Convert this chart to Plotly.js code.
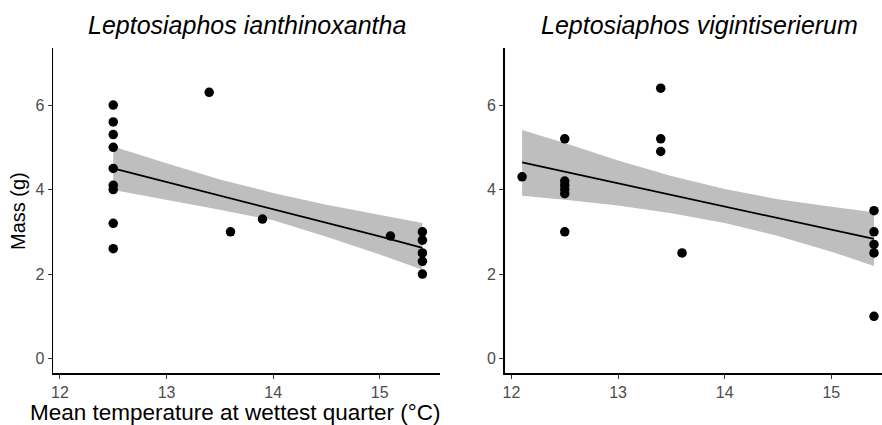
<!DOCTYPE html>
<html>
<head>
<meta charset="utf-8">
<script src="https://cdn.plot.ly/plotly-3.0.1.min.js"></script>
<style>
  html, body { margin: 0; padding: 0; background: #ffffff; }
  #chart { width: 882px; height: 425px; }
</style>
</head>
<body>
<div id="chart"></div>
<script>
// ---- Data ----
const panelTitles = ["Leptosiaphos ianthinoxantha", "Leptosiaphos vigintiserierum"];
const xTitle = "Mean temperature at wettest quarter (°C)";
const yTitle = "Mass (g)";
const xTickVals = [12, 13, 14, 15];
const yTickVals = [0, 2, 4, 6];

// L. ianthinoxantha observations
const ianX = [12.5, 12.5, 12.5, 12.5, 12.5, 12.5, 12.5, 12.5, 12.5, 13.4, 13.6, 13.9, 15.1, 15.4, 15.4, 15.4, 15.4, 15.4];
const ianY = [6.0, 5.6, 5.3, 5.0, 4.5, 4.1, 4.0, 3.2, 2.6, 6.3, 3.0, 3.3, 2.9, 3.0, 2.8, 2.5, 2.3, 2.0];
// L. ianthinoxantha fitted line and confidence band
const ianFitX = [12.5, 13.0, 13.5, 14.0, 14.5, 15.0, 15.4];
const ianFit = [4.50, 4.18, 3.85, 3.53, 3.21, 2.89, 2.62];
const ianUpper = [5.02, 4.62, 4.24, 3.92, 3.64, 3.40, 3.21];
const ianLower = [3.99, 3.76, 3.52, 3.27, 2.88, 2.46, 2.10];

// L. vigintiserierum observations
const vigX = [12.1, 12.5, 12.5, 12.5, 12.5, 12.5, 12.5, 13.4, 13.4, 13.4, 13.6, 15.4, 15.4, 15.4, 15.4, 15.4];
const vigY = [4.3, 5.2, 4.2, 4.1, 4.0, 3.9, 3.0, 6.4, 5.2, 4.9, 2.5, 3.5, 3.0, 2.7, 2.5, 1.0];
// L. vigintiserierum fitted line and confidence band
const vigFitX = [12.1, 12.5, 13.0, 13.5, 14.0, 14.5, 15.0, 15.4];
const vigFit = [4.64, 4.42, 4.15, 3.87, 3.60, 3.33, 3.05, 2.83];
const vigUpper = [5.41, 5.10, 4.69, 4.32, 4.01, 3.77, 3.59, 3.46];
const vigLower = [3.85, 3.76, 3.62, 3.44, 3.21, 2.90, 2.53, 2.19];

// ---- Styling ----
const W = 882, H = 425;
const FONT = "Arial, 'Liberation Sans', Helvetica, sans-serif";
const bandColor = "#BEBEBE";

function bandTrace(xs, up, lo, xa, ya) {
  return {
    type: "scatter", mode: "lines",
    x: xs.concat(xs.slice().reverse()),
    y: up.concat(lo.slice().reverse()),
    fill: "toself", fillcolor: bandColor,
    line: { width: 0, color: bandColor },
    hoverinfo: "skip", showlegend: false,
    xaxis: xa, yaxis: ya
  };
}
function fitTrace(xs, ys, xa, ya) {
  return {
    type: "scatter", mode: "lines", x: xs, y: ys,
    line: { color: "#000000", width: 1.8 },
    showlegend: false, xaxis: xa, yaxis: ya
  };
}
function pointTrace(xs, ys, xa, ya) {
  return {
    type: "scatter", mode: "markers", x: xs, y: ys,
    marker: { color: "#000000", size: 9.5, line: { width: 0 } },
    showlegend: false, xaxis: xa, yaxis: ya, cliponaxis: false
  };
}

const data = [
  bandTrace(ianFitX, ianUpper, ianLower, "x", "y"),
  fitTrace(ianFitX, ianFit, "x", "y"),
  pointTrace(ianX, ianY, "x", "y"),
  bandTrace(vigFitX, vigUpper, vigLower, "x2", "y2"),
  fitTrace(vigFitX, vigFit, "x2", "y2"),
  pointTrace(vigX, vigY, "x2", "y2")
];

const yDom = [51.7 / H, 377 / H];
function xAxis(domain, range, anchor) {
  return {
    domain: domain, range: range, anchor: anchor,
    tickvals: xTickVals, ticktext: xTickVals.map(String),
    showgrid: false, zeroline: false,
    showline: true, linecolor: "#000000", linewidth: 1.3,
    ticks: "outside", ticklen: 4, tickwidth: 1, tickcolor: "#333333",
    tickfont: { family: FONT, size: 16, color: "#4D4D4D" },
    fixedrange: true
  };
}
function yAxis(anchor) {
  return {
    domain: yDom, range: [-0.35, 7.35], anchor: anchor,
    tickvals: yTickVals, ticktext: yTickVals.map(String),
    showgrid: false, zeroline: false,
    showline: true, linecolor: "#000000", linewidth: 1.3,
    ticks: "outside", ticklen: 4, tickwidth: 1, tickcolor: "#333333",
    tickfont: { family: FONT, size: 16, color: "#4D4D4D" },
    fixedrange: true
  };
}

const layout = {
  width: W, height: H,
  margin: { l: 0, r: 0, t: 0, b: 0, pad: 0 },
  paper_bgcolor: "#ffffff", plot_bgcolor: "#ffffff",
  showlegend: false,
  font: { family: FONT, color: "#000000" },
  xaxis: xAxis([53 / W, 440 / W], [11.935, 15.565], "y"),
  yaxis: yAxis("x"),
  xaxis2: xAxis([504.5 / W, 1], [11.935, 15.475], "y2"),
  yaxis2: yAxis("x2"),
  annotations: [
    { text: panelTitles[0], xref: "paper", yref: "paper", x: 247 / W, y: (H - 25) / H,
      xanchor: "center", yanchor: "middle", showarrow: false,
      font: { family: FONT, size: 25, color: "#000000", style: "italic" } },
    { text: panelTitles[1], xref: "paper", yref: "paper", x: 699 / W, y: (H - 25) / H,
      xanchor: "center", yanchor: "middle", showarrow: false,
      font: { family: FONT, size: 25, color: "#000000", style: "italic" } },
    { text: xTitle, xref: "paper", yref: "paper", x: 235 / W, y: (H - 412) / H,
      xanchor: "center", yanchor: "middle", showarrow: false,
      font: { family: FONT, size: 22.5, color: "#000000" } },
    { text: yTitle, xref: "paper", yref: "paper", x: 18 / W, y: (H - 211) / H,
      xanchor: "center", yanchor: "middle", showarrow: false, textangle: -90,
      font: { family: FONT, size: 20, color: "#000000" } }
  ]
};

Plotly.newPlot("chart", data, layout, { staticPlot: true, displayModeBar: false });
</script>
</body>
</html>
